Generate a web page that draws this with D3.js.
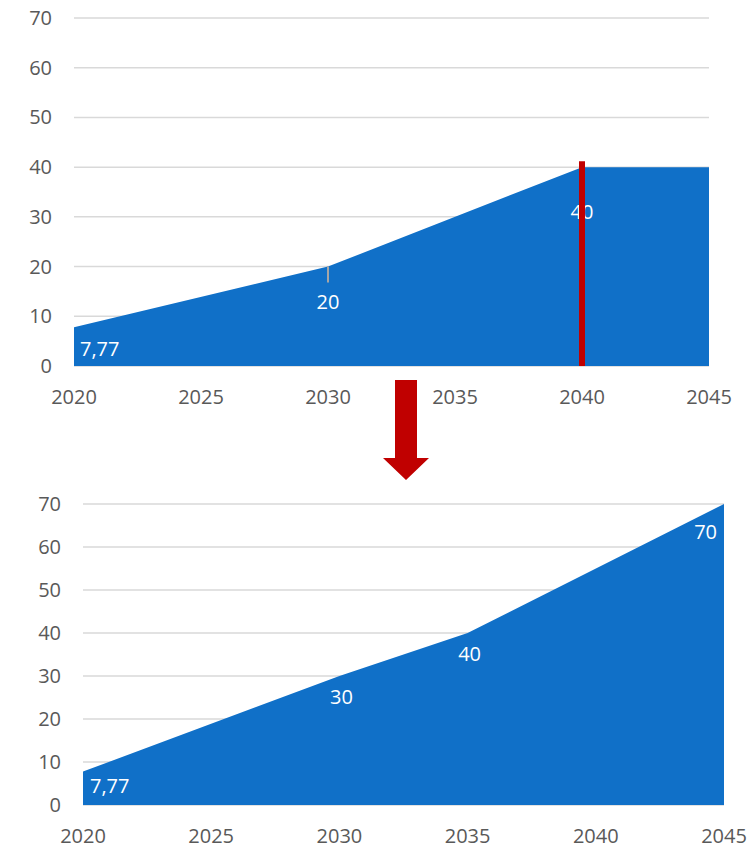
<!DOCTYPE html>
<html><head><meta charset="utf-8">
<script src="https://cdn.jsdelivr.net/npm/d3@7"></script>
<style>body{margin:0;background:#fff}svg{display:block;font-family:"Open Sans",Calibri,sans-serif}</style>
</head><body><svg id="c" width="754" height="848"></svg>
<script>
const xTicks = [2020, 2025, 2030, 2035, 2040, 2045];
const yTicks = [0, 10, 20, 30, 40, 50, 60, 70];
const topYears = [2020, 2030, 2040, 2045];
const topValues = [7.77, 20, 40, 40];
const topLabelYears = [2020, 2030, 2040];
const bottomYears = [2020, 2030, 2035, 2045];
const bottomValues = [7.77, 30, 40, 70];
const bottomLabelYears = [2020, 2030, 2035, 2045];
const markerYear = 2040;

const svg = d3.select("#c");
const fmt = v => String(v).replace(".", ",");

function panel(cfg) {
  const x = d3.scaleLinear().domain([2020, 2045]).range([cfg.x0, cfg.x1]);
  const y = d3.scaleLinear().domain([0, 70]).range([cfg.y0, cfg.y1]);
  const g = svg.append("g");
  // gridlines
  g.selectAll("line.grid").data(yTicks).join("line")
    .attr("x1", cfg.x0).attr("x2", cfg.x1)
    .attr("y1", d => y(d)).attr("y2", d => y(d))
    .attr("stroke", "#d9d9d9").attr("stroke-width", 1.5);
  // y labels
  g.selectAll("text.yl").data(yTicks).join("text")
    .attr("x", cfg.x0 - 22).attr("y", d => y(d)).attr("dy", "0.35em")
    .attr("text-anchor", "end").attr("fill", "#595959").attr("font-size", 20)
    .text(d => d);
  // x labels
  g.selectAll("text.xl").data(xTicks).join("text")
    .attr("x", d => x(d)).attr("y", cfg.y0 + 31).attr("dy", "0.35em")
    .attr("text-anchor", "middle").attr("fill", "#595959").attr("font-size", 20)
    .text(d => d);
  const data = cfg.years.map((yr, i) => ({yr, v: cfg.values[i]}));
  const area = d3.area().x(d => x(d.yr)).y0(y(0)).y1(d => y(d.v));
  g.append("path").datum(data).attr("d", area).attr("fill", "#1070c8");
  return {g, x, y, data};
}

// Top panel
const t = panel({x0: 74, x1: 709, y0: 366, y1: 18, years: topYears, values: topValues});
const tl = t.data.filter(d => topLabelYears.includes(d.yr));
// leader line for 2030
const p30 = t.data.find(d => d.yr === 2030);
t.g.append("line").attr("x1", t.x(p30.yr)).attr("x2", t.x(p30.yr))
  .attr("y1", t.y(p30.v)).attr("y2", t.y(p30.v) + 16)
  .attr("stroke", "#a6a6a6").attr("stroke-width", 2);
t.g.selectAll("text.dl").data(tl).join("text")
  .attr("x", d => d.yr === 2020 ? t.x(d.yr) + 6 : t.x(d.yr))
  .attr("y", d => d.yr === 2020 ? t.y(0) - 17 : (d.yr === 2030 ? t.y(d.v) + 35 : t.y(d.v) + 45))
  .attr("dy", "0.35em")
  .attr("text-anchor", d => d.yr === 2020 ? "start" : "middle")
  .attr("fill", "#fff").attr("font-size", 20).text(d => fmt(d.v));
// red marker line
t.g.append("line").attr("x1", t.x(markerYear)).attr("x2", t.x(markerYear))
  .attr("y1", t.y(0)).attr("y2", t.y(40) - 6)
  .attr("stroke", "#c00000").attr("stroke-width", 6);

// Arrow
svg.append("path")
  .attr("d", "M395,380 L417,380 L417,458 L429,458 L406,480 L383,458 L395,458 Z")
  .attr("fill", "#c00000");

// Bottom panel
const b = panel({x0: 83, x1: 724, y0: 805, y1: 504, years: bottomYears, values: bottomValues});
const bl = b.data.filter(d => bottomLabelYears.includes(d.yr));
b.g.selectAll("text.dl").data(bl).join("text")
  .attr("x", d => d.yr === 2020 ? b.x(d.yr) + 7 : (d.yr === 2045 ? b.x(d.yr) - 7 : b.x(d.yr) + 2))
  .attr("y", d => d.yr === 2020 ? b.y(0) - 19 : (d.yr === 2045 ? b.y(d.v) + 28 : b.y(d.v) + 21))
  .attr("dy", "0.35em")
  .attr("text-anchor", d => d.yr === 2020 ? "start" : (d.yr === 2045 ? "end" : "middle"))
  .attr("fill", "#fff").attr("font-size", 20).text(d => fmt(d.v));
</script></body></html>
